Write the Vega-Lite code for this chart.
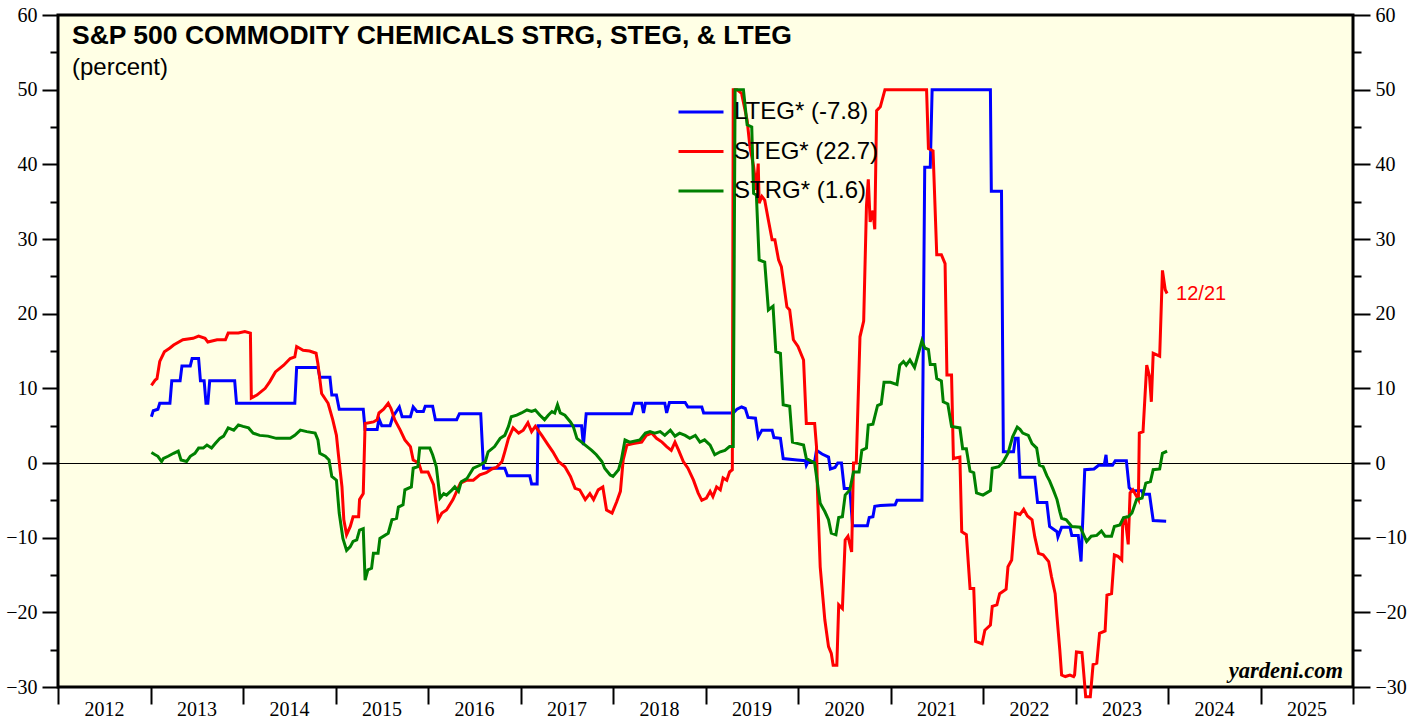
{
"$schema": "https://vega.github.io/schema/vega-lite/v6.json",
"width": 1295, "height": 672,
"autosize": {"type": "none"},
"padding": {"left": 58, "top": 15, "right": 66, "bottom": 32},
"background": "white",
"config": {"view": {"fill": "#FFFFE5", "stroke": "black", "strokeWidth": 3}},
"resolve": {"scale": {"y": "independent"}, "axis": {"y": "independent"}},
"layer": [
{
 "data": {"values": [
{"s":"LTEG","t":2013.01,"v":6.2},{"s":"LTEG","t":2013.03,"v":7.0},{"s":"LTEG","t":2013.08,"v":7.2},{"s":"LTEG","t":2013.10,"v":8.0},{"s":"LTEG","t":2013.21,"v":8.0},{"s":"LTEG","t":2013.23,"v":11},{"s":"LTEG","t":2013.32,"v":11},{"s":"LTEG","t":2013.34,"v":13},{"s":"LTEG","t":2013.43,"v":13},{"s":"LTEG","t":2013.45,"v":14},{"s":"LTEG","t":2013.52,"v":14},{"s":"LTEG","t":2013.54,"v":11},{"s":"LTEG","t":2013.58,"v":11},{"s":"LTEG","t":2013.60,"v":8},{"s":"LTEG","t":2013.62,"v":8},{"s":"LTEG","t":2013.64,"v":11},{"s":"LTEG","t":2013.91,"v":11},{"s":"LTEG","t":2013.93,"v":8},{"s":"LTEG","t":2014.56,"v":8},{"s":"LTEG","t":2014.58,"v":12.8},{"s":"LTEG","t":2014.81,"v":12.8},{"s":"LTEG","t":2014.83,"v":11.5},{"s":"LTEG","t":2014.94,"v":11.5},{"s":"LTEG","t":2014.96,"v":9.1},{"s":"LTEG","t":2015.01,"v":9.1},{"s":"LTEG","t":2015.04,"v":7.2},{"s":"LTEG","t":2015.30,"v":7.2},{"s":"LTEG","t":2015.32,"v":4.5},{"s":"LTEG","t":2015.45,"v":4.5},{"s":"LTEG","t":2015.47,"v":5.9},{"s":"LTEG","t":2015.50,"v":5.0},{"s":"LTEG","t":2015.59,"v":5.0},{"s":"LTEG","t":2015.62,"v":6.2},{"s":"LTEG","t":2015.69,"v":7.5},{"s":"LTEG","t":2015.72,"v":6.2},{"s":"LTEG","t":2015.81,"v":6.2},{"s":"LTEG","t":2015.84,"v":7.5},{"s":"LTEG","t":2015.88,"v":6.9},{"s":"LTEG","t":2015.95,"v":6.9},{"s":"LTEG","t":2015.97,"v":7.6},{"s":"LTEG","t":2016.05,"v":7.6},{"s":"LTEG","t":2016.08,"v":5.8},{"s":"LTEG","t":2016.31,"v":5.8},{"s":"LTEG","t":2016.34,"v":6.6},{"s":"LTEG","t":2016.57,"v":6.6},{"s":"LTEG","t":2016.60,"v":-0.7},{"s":"LTEG","t":2016.83,"v":-0.7},{"s":"LTEG","t":2016.86,"v":-1.7},{"s":"LTEG","t":2017.10,"v":-1.7},{"s":"LTEG","t":2017.12,"v":-2.8},{"s":"LTEG","t":2017.18,"v":-2.8},{"s":"LTEG","t":2017.19,"v":5.0},{"s":"LTEG","t":2017.66,"v":5.0},{"s":"LTEG","t":2017.68,"v":2.4},{"s":"LTEG","t":2017.71,"v":6.6},{"s":"LTEG","t":2018.20,"v":6.6},{"s":"LTEG","t":2018.23,"v":8.0},{"s":"LTEG","t":2018.31,"v":8.0},{"s":"LTEG","t":2018.33,"v":6.7},{"s":"LTEG","t":2018.35,"v":8.0},{"s":"LTEG","t":2018.56,"v":8.0},{"s":"LTEG","t":2018.58,"v":6.7},{"s":"LTEG","t":2018.61,"v":8.1},{"s":"LTEG","t":2018.78,"v":8.1},{"s":"LTEG","t":2018.81,"v":7.5},{"s":"LTEG","t":2018.96,"v":7.5},{"s":"LTEG","t":2018.98,"v":6.7},{"s":"LTEG","t":2019.30,"v":6.7},{"s":"LTEG","t":2019.34,"v":7.2},{"s":"LTEG","t":2019.39,"v":7.5},{"s":"LTEG","t":2019.43,"v":7.3},{"s":"LTEG","t":2019.46,"v":6.1},{"s":"LTEG","t":2019.54,"v":6.0},{"s":"LTEG","t":2019.57,"v":3.5},{"s":"LTEG","t":2019.61,"v":4.4},{"s":"LTEG","t":2019.72,"v":4.4},{"s":"LTEG","t":2019.74,"v":3.4},{"s":"LTEG","t":2019.81,"v":3.3},{"s":"LTEG","t":2019.84,"v":0.6},{"s":"LTEG","t":2019.99,"v":0.4},{"s":"LTEG","t":2020.08,"v":0.3},{"s":"LTEG","t":2020.09,"v":-0.3},{"s":"LTEG","t":2020.11,"v":0.2},{"s":"LTEG","t":2020.18,"v":0.2},{"s":"LTEG","t":2020.20,"v":1.7},{"s":"LTEG","t":2020.26,"v":1.2},{"s":"LTEG","t":2020.33,"v":0.8},{"s":"LTEG","t":2020.35,"v":-0.8},{"s":"LTEG","t":2020.40,"v":-0.6},{"s":"LTEG","t":2020.43,"v":0},{"s":"LTEG","t":2020.47,"v":0},{"s":"LTEG","t":2020.50,"v":-3.4},{"s":"LTEG","t":2020.56,"v":-3.4},{"s":"LTEG","t":2020.59,"v":-8.4},{"s":"LTEG","t":2020.75,"v":-8.4},{"s":"LTEG","t":2020.77,"v":-7.3},{"s":"LTEG","t":2020.81,"v":-7.2},{"s":"LTEG","t":2020.83,"v":-5.8},{"s":"LTEG","t":2020.89,"v":-5.7},{"s":"LTEG","t":2021.05,"v":-5.6},{"s":"LTEG","t":2021.07,"v":-5.0},{"s":"LTEG","t":2021.34,"v":-5.0},{"s":"LTEG","t":2021.37,"v":39.6},{"s":"LTEG","t":2021.43,"v":39.6},{"s":"LTEG","t":2021.45,"v":50},{"s":"LTEG","t":2022.08,"v":50},{"s":"LTEG","t":2022.09,"v":36.4},{"s":"LTEG","t":2022.20,"v":36.4},{"s":"LTEG","t":2022.22,"v":1.5},{"s":"LTEG","t":2022.33,"v":1.5},{"s":"LTEG","t":2022.35,"v":3.3},{"s":"LTEG","t":2022.38,"v":3.3},{"s":"LTEG","t":2022.40,"v":-1.9},{"s":"LTEG","t":2022.56,"v":-1.9},{"s":"LTEG","t":2022.59,"v":-5.3},{"s":"LTEG","t":2022.69,"v":-5.3},{"s":"LTEG","t":2022.72,"v":-8.5},{"s":"LTEG","t":2022.80,"v":-9.2},{"s":"LTEG","t":2022.81,"v":-9.9},{"s":"LTEG","t":2022.85,"v":-8.6},{"s":"LTEG","t":2022.94,"v":-8.6},{"s":"LTEG","t":2022.96,"v":-9.7},{"s":"LTEG","t":2023.03,"v":-9.7},{"s":"LTEG","t":2023.06,"v":-13.2},{"s":"LTEG","t":2023.08,"v":-7.2},{"s":"LTEG","t":2023.10,"v":-0.9},{"s":"LTEG","t":2023.20,"v":-0.8},{"s":"LTEG","t":2023.25,"v":-0.3},{"s":"LTEG","t":2023.31,"v":-0.3},{"s":"LTEG","t":2023.33,"v":1.1},{"s":"LTEG","t":2023.34,"v":-0.3},{"s":"LTEG","t":2023.40,"v":-0.3},{"s":"LTEG","t":2023.43,"v":0.3},{"s":"LTEG","t":2023.55,"v":0.3},{"s":"LTEG","t":2023.58,"v":-3.3},{"s":"LTEG","t":2023.61,"v":-3.7},{"s":"LTEG","t":2023.72,"v":-3.7},{"s":"LTEG","t":2023.73,"v":-4.2},{"s":"LTEG","t":2023.80,"v":-4.2},{"s":"LTEG","t":2023.84,"v":-7.7},{"s":"LTEG","t":2023.98,"v":-7.8},
{"s":"STEG","t":2013.01,"v":10.4},{"s":"STEG","t":2013.05,"v":11.1},{"s":"STEG","t":2013.07,"v":11.3},{"s":"STEG","t":2013.10,"v":13.6},{"s":"STEG","t":2013.15,"v":14.9},{"s":"STEG","t":2013.21,"v":15.4},{"s":"STEG","t":2013.25,"v":15.8},{"s":"STEG","t":2013.35,"v":16.5},{"s":"STEG","t":2013.46,"v":16.7},{"s":"STEG","t":2013.52,"v":17.0},{"s":"STEG","t":2013.59,"v":16.7},{"s":"STEG","t":2013.62,"v":16.2},{"s":"STEG","t":2013.72,"v":16.5},{"s":"STEG","t":2013.81,"v":16.5},{"s":"STEG","t":2013.84,"v":17.4},{"s":"STEG","t":2013.95,"v":17.4},{"s":"STEG","t":2014.02,"v":17.6},{"s":"STEG","t":2014.08,"v":17.4},{"s":"STEG","t":2014.09,"v":8.7},{"s":"STEG","t":2014.15,"v":9.1},{"s":"STEG","t":2014.24,"v":10.0},{"s":"STEG","t":2014.29,"v":10.9},{"s":"STEG","t":2014.35,"v":12.2},{"s":"STEG","t":2014.44,"v":13.1},{"s":"STEG","t":2014.51,"v":14.0},{"s":"STEG","t":2014.56,"v":14.2},{"s":"STEG","t":2014.58,"v":15.6},{"s":"STEG","t":2014.65,"v":15.1},{"s":"STEG","t":2014.72,"v":15.0},{"s":"STEG","t":2014.79,"v":14.7},{"s":"STEG","t":2014.81,"v":13.3},{"s":"STEG","t":2014.85,"v":9.3},{"s":"STEG","t":2014.92,"v":8.0},{"s":"STEG","t":2014.97,"v":5.8},{"s":"STEG","t":2015.01,"v":3.7},{"s":"STEG","t":2015.03,"v":1.3},{"s":"STEG","t":2015.07,"v":-3.2},{"s":"STEG","t":2015.09,"v":-7.6},{"s":"STEG","t":2015.12,"v":-9.6},{"s":"STEG","t":2015.16,"v":-8.5},{"s":"STEG","t":2015.19,"v":-7.2},{"s":"STEG","t":2015.25,"v":-7.2},{"s":"STEG","t":2015.26,"v":-4.9},{"s":"STEG","t":2015.30,"v":-4.1},{"s":"STEG","t":2015.32,"v":5.3},{"s":"STEG","t":2015.41,"v":5.5},{"s":"STEG","t":2015.45,"v":5.8},{"s":"STEG","t":2015.47,"v":6.7},{"s":"STEG","t":2015.52,"v":7.2},{"s":"STEG","t":2015.57,"v":8.0},{"s":"STEG","t":2015.60,"v":7.3},{"s":"STEG","t":2015.64,"v":5.8},{"s":"STEG","t":2015.70,"v":4.4},{"s":"STEG","t":2015.75,"v":3.1},{"s":"STEG","t":2015.81,"v":2.2},{"s":"STEG","t":2015.84,"v":0.4},{"s":"STEG","t":2015.90,"v":0},{"s":"STEG","t":2015.93,"v":-1.2},{"s":"STEG","t":2016.00,"v":-1.2},{"s":"STEG","t":2016.06,"v":-2.9},{"s":"STEG","t":2016.11,"v":-7.6},{"s":"STEG","t":2016.15,"v":-6.7},{"s":"STEG","t":2016.20,"v":-6.3},{"s":"STEG","t":2016.27,"v":-4.9},{"s":"STEG","t":2016.35,"v":-2.7},{"s":"STEG","t":2016.42,"v":-2.3},{"s":"STEG","t":2016.49,"v":-2.3},{"s":"STEG","t":2016.56,"v":-1.6},{"s":"STEG","t":2016.63,"v":-1.3},{"s":"STEG","t":2016.69,"v":-0.8},{"s":"STEG","t":2016.74,"v":-0.6},{"s":"STEG","t":2016.80,"v":0.2},{"s":"STEG","t":2016.83,"v":1.5},{"s":"STEG","t":2016.87,"v":3.3},{"s":"STEG","t":2016.92,"v":4.7},{"s":"STEG","t":2016.98,"v":4.0},{"s":"STEG","t":2017.03,"v":4.4},{"s":"STEG","t":2017.08,"v":5.4},{"s":"STEG","t":2017.12,"v":4.2},{"s":"STEG","t":2017.16,"v":4.9},{"s":"STEG","t":2017.23,"v":3.7},{"s":"STEG","t":2017.30,"v":2.4},{"s":"STEG","t":2017.35,"v":1.5},{"s":"STEG","t":2017.41,"v":0.2},{"s":"STEG","t":2017.48,"v":-0.5},{"s":"STEG","t":2017.54,"v":-1.8},{"s":"STEG","t":2017.59,"v":-3.4},{"s":"STEG","t":2017.64,"v":-3.6},{"s":"STEG","t":2017.70,"v":-4.9},{"s":"STEG","t":2017.75,"v":-4.1},{"s":"STEG","t":2017.79,"v":-4.9},{"s":"STEG","t":2017.84,"v":-3.6},{"s":"STEG","t":2017.89,"v":-3.2},{"s":"STEG","t":2017.93,"v":-6.3},{"s":"STEG","t":2017.99,"v":-6.7},{"s":"STEG","t":2018.04,"v":-5.2},{"s":"STEG","t":2018.08,"v":-3.8},{"s":"STEG","t":2018.11,"v":0.4},{"s":"STEG","t":2018.15,"v":2.4},{"s":"STEG","t":2018.22,"v":2.6},{"s":"STEG","t":2018.31,"v":2.8},{"s":"STEG","t":2018.36,"v":3.7},{"s":"STEG","t":2018.42,"v":4.0},{"s":"STEG","t":2018.47,"v":3.3},{"s":"STEG","t":2018.53,"v":2.8},{"s":"STEG","t":2018.58,"v":2.2},{"s":"STEG","t":2018.63,"v":1.7},{"s":"STEG","t":2018.67,"v":2.8},{"s":"STEG","t":2018.71,"v":1.7},{"s":"STEG","t":2018.76,"v":0.2},{"s":"STEG","t":2018.81,"v":-0.7},{"s":"STEG","t":2018.87,"v":-2.3},{"s":"STEG","t":2018.92,"v":-4.0},{"s":"STEG","t":2018.96,"v":-5.0},{"s":"STEG","t":2019.01,"v":-4.7},{"s":"STEG","t":2019.05,"v":-3.8},{"s":"STEG","t":2019.08,"v":-4.5},{"s":"STEG","t":2019.12,"v":-3.2},{"s":"STEG","t":2019.16,"v":-3.6},{"s":"STEG","t":2019.19,"v":-2.0},{"s":"STEG","t":2019.23,"v":-2.3},{"s":"STEG","t":2019.26,"v":-1.2},{"s":"STEG","t":2019.29,"v":-0.9},{"s":"STEG","t":2019.30,"v":50},{"s":"STEG","t":2019.34,"v":50},{"s":"STEG","t":2019.39,"v":49.5},{"s":"STEG","t":2019.45,"v":45.9},{"s":"STEG","t":2019.48,"v":42.4},{"s":"STEG","t":2019.52,"v":39.7},{"s":"STEG","t":2019.55,"v":36.6},{"s":"STEG","t":2019.57,"v":40.1},{"s":"STEG","t":2019.58,"v":34.8},{"s":"STEG","t":2019.61,"v":35.7},{"s":"STEG","t":2019.64,"v":35.2},{"s":"STEG","t":2019.68,"v":32.5},{"s":"STEG","t":2019.72,"v":29.9},{"s":"STEG","t":2019.75,"v":29.9},{"s":"STEG","t":2019.79,"v":27.2},{"s":"STEG","t":2019.82,"v":26.3},{"s":"STEG","t":2019.84,"v":24.5},{"s":"STEG","t":2019.88,"v":20.9},{"s":"STEG","t":2019.91,"v":20.5},{"s":"STEG","t":2019.95,"v":16.5},{"s":"STEG","t":2020.00,"v":15.6},{"s":"STEG","t":2020.06,"v":13.8},{"s":"STEG","t":2020.09,"v":5.3},{"s":"STEG","t":2020.18,"v":5.3},{"s":"STEG","t":2020.20,"v":2.2},{"s":"STEG","t":2020.21,"v":-3.6},{"s":"STEG","t":2020.24,"v":-13.9},{"s":"STEG","t":2020.29,"v":-21.0},{"s":"STEG","t":2020.33,"v":-24.6},{"s":"STEG","t":2020.36,"v":-25.5},{"s":"STEG","t":2020.38,"v":-27.1},{"s":"STEG","t":2020.42,"v":-27.1},{"s":"STEG","t":2020.44,"v":-19.0},{"s":"STEG","t":2020.48,"v":-19.5},{"s":"STEG","t":2020.51,"v":-10.3},{"s":"STEG","t":2020.54,"v":-9.8},{"s":"STEG","t":2020.58,"v":-11.9},{"s":"STEG","t":2020.60,"v":0},{"s":"STEG","t":2020.63,"v":0},{"s":"STEG","t":2020.67,"v":16.9},{"s":"STEG","t":2020.71,"v":19.0},{"s":"STEG","t":2020.74,"v":34.4},{"s":"STEG","t":2020.76,"v":38.0},{"s":"STEG","t":2020.78,"v":32.3},{"s":"STEG","t":2020.81,"v":33.8},{"s":"STEG","t":2020.83,"v":31.3},{"s":"STEG","t":2020.85,"v":47.2},{"s":"STEG","t":2020.89,"v":47.7},{"s":"STEG","t":2020.94,"v":50},{"s":"STEG","t":2021.39,"v":50},{"s":"STEG","t":2021.41,"v":42.1},{"s":"STEG","t":2021.46,"v":41.8},{"s":"STEG","t":2021.50,"v":27.9},{"s":"STEG","t":2021.55,"v":27.9},{"s":"STEG","t":2021.59,"v":26.7},{"s":"STEG","t":2021.61,"v":11.8},{"s":"STEG","t":2021.66,"v":11.8},{"s":"STEG","t":2021.68,"v":0.6},{"s":"STEG","t":2021.75,"v":0.8},{"s":"STEG","t":2021.77,"v":-9.2},{"s":"STEG","t":2021.82,"v":-9.6},{"s":"STEG","t":2021.86,"v":-16.8},{"s":"STEG","t":2021.90,"v":-16.8},{"s":"STEG","t":2021.92,"v":-23.9},{"s":"STEG","t":2021.99,"v":-24.2},{"s":"STEG","t":2022.02,"v":-22.4},{"s":"STEG","t":2022.08,"v":-21.7},{"s":"STEG","t":2022.10,"v":-19.2},{"s":"STEG","t":2022.15,"v":-19.0},{"s":"STEG","t":2022.18,"v":-17.5},{"s":"STEG","t":2022.25,"v":-16.9},{"s":"STEG","t":2022.27,"v":-13.9},{"s":"STEG","t":2022.31,"v":-13.0},{"s":"STEG","t":2022.35,"v":-6.7},{"s":"STEG","t":2022.40,"v":-6.9},{"s":"STEG","t":2022.44,"v":-6.2},{"s":"STEG","t":2022.48,"v":-7.1},{"s":"STEG","t":2022.53,"v":-7.6},{"s":"STEG","t":2022.56,"v":-9.9},{"s":"STEG","t":2022.60,"v":-12.1},{"s":"STEG","t":2022.65,"v":-12.3},{"s":"STEG","t":2022.71,"v":-13.2},{"s":"STEG","t":2022.74,"v":-15.2},{"s":"STEG","t":2022.78,"v":-17.5},{"s":"STEG","t":2022.80,"v":-20.6},{"s":"STEG","t":2022.83,"v":-25.0},{"s":"STEG","t":2022.85,"v":-28.4},{"s":"STEG","t":2022.89,"v":-28.6},{"s":"STEG","t":2022.94,"v":-28.4},{"s":"STEG","t":2022.98,"v":-28.6},{"s":"STEG","t":2022.99,"v":-28.4},{"s":"STEG","t":2023.01,"v":-25.3},{"s":"STEG","t":2023.07,"v":-25.4},{"s":"STEG","t":2023.08,"v":-26.8},{"s":"STEG","t":2023.11,"v":-31.3},{"s":"STEG","t":2023.16,"v":-31.3},{"s":"STEG","t":2023.19,"v":-27.0},{"s":"STEG","t":2023.23,"v":-26.8},{"s":"STEG","t":2023.26,"v":-22.8},{"s":"STEG","t":2023.32,"v":-22.5},{"s":"STEG","t":2023.34,"v":-17.7},{"s":"STEG","t":2023.39,"v":-17.5},{"s":"STEG","t":2023.42,"v":-12.3},{"s":"STEG","t":2023.46,"v":-12.5},{"s":"STEG","t":2023.50,"v":-13.0},{"s":"STEG","t":2023.51,"v":-8.3},{"s":"STEG","t":2023.54,"v":-7.6},{"s":"STEG","t":2023.57,"v":-10.9},{"s":"STEG","t":2023.59,"v":-4.0},{"s":"STEG","t":2023.62,"v":-3.6},{"s":"STEG","t":2023.68,"v":-4.9},{"s":"STEG","t":2023.69,"v":4.0},{"s":"STEG","t":2023.73,"v":4.2},{"s":"STEG","t":2023.77,"v":13.1},{"s":"STEG","t":2023.80,"v":11.6},{"s":"STEG","t":2023.82,"v":8.2},{"s":"STEG","t":2023.84,"v":14.7},{"s":"STEG","t":2023.91,"v":14.3},{"s":"STEG","t":2023.94,"v":25.8},{"s":"STEG","t":2023.97,"v":23.2},{"s":"STEG","t":2023.99,"v":22.7},
{"s":"STRG","t":2013.01,"v":1.4},{"s":"STRG","t":2013.05,"v":1.1},{"s":"STRG","t":2013.08,"v":0.9},{"s":"STRG","t":2013.12,"v":0.2},{"s":"STRG","t":2013.14,"v":0.6},{"s":"STRG","t":2013.19,"v":0.9},{"s":"STRG","t":2013.25,"v":1.3},{"s":"STRG","t":2013.30,"v":1.6},{"s":"STRG","t":2013.33,"v":0.4},{"s":"STRG","t":2013.39,"v":0.2},{"s":"STRG","t":2013.43,"v":0.9},{"s":"STRG","t":2013.48,"v":1.3},{"s":"STRG","t":2013.52,"v":2.0},{"s":"STRG","t":2013.57,"v":2.0},{"s":"STRG","t":2013.61,"v":2.4},{"s":"STRG","t":2013.66,"v":2.0},{"s":"STRG","t":2013.70,"v":2.6},{"s":"STRG","t":2013.75,"v":3.3},{"s":"STRG","t":2013.79,"v":3.6},{"s":"STRG","t":2013.84,"v":4.7},{"s":"STRG","t":2013.90,"v":4.4},{"s":"STRG","t":2013.95,"v":5.1},{"s":"STRG","t":2014.00,"v":4.9},{"s":"STRG","t":2014.06,"v":4.7},{"s":"STRG","t":2014.11,"v":4.0},{"s":"STRG","t":2014.18,"v":3.7},{"s":"STRG","t":2014.27,"v":3.6},{"s":"STRG","t":2014.36,"v":3.3},{"s":"STRG","t":2014.51,"v":3.3},{"s":"STRG","t":2014.56,"v":3.7},{"s":"STRG","t":2014.62,"v":4.4},{"s":"STRG","t":2014.69,"v":4.2},{"s":"STRG","t":2014.78,"v":4.0},{"s":"STRG","t":2014.81,"v":3.1},{"s":"STRG","t":2014.83,"v":1.3},{"s":"STRG","t":2014.89,"v":0.9},{"s":"STRG","t":2014.93,"v":0.4},{"s":"STRG","t":2014.96,"v":-1.8},{"s":"STRG","t":2015.01,"v":-2.3},{"s":"STRG","t":2015.04,"v":-6.7},{"s":"STRG","t":2015.08,"v":-10.1},{"s":"STRG","t":2015.12,"v":-11.7},{"s":"STRG","t":2015.16,"v":-11.2},{"s":"STRG","t":2015.19,"v":-10.5},{"s":"STRG","t":2015.23,"v":-10.3},{"s":"STRG","t":2015.26,"v":-9.0},{"s":"STRG","t":2015.30,"v":-8.8},{"s":"STRG","t":2015.32,"v":-15.7},{"s":"STRG","t":2015.35,"v":-14.3},{"s":"STRG","t":2015.39,"v":-14.1},{"s":"STRG","t":2015.41,"v":-12.1},{"s":"STRG","t":2015.46,"v":-12.1},{"s":"STRG","t":2015.48,"v":-10.1},{"s":"STRG","t":2015.57,"v":-9.4},{"s":"STRG","t":2015.61,"v":-7.6},{"s":"STRG","t":2015.66,"v":-7.4},{"s":"STRG","t":2015.68,"v":-5.9},{"s":"STRG","t":2015.73,"v":-5.6},{"s":"STRG","t":2015.75,"v":-3.6},{"s":"STRG","t":2015.82,"v":-3.2},{"s":"STRG","t":2015.84,"v":-0.7},{"s":"STRG","t":2015.89,"v":-0.5},{"s":"STRG","t":2015.91,"v":2.0},{"s":"STRG","t":2016.02,"v":2.0},{"s":"STRG","t":2016.05,"v":1.1},{"s":"STRG","t":2016.09,"v":-0.5},{"s":"STRG","t":2016.13,"v":-4.7},{"s":"STRG","t":2016.17,"v":-4.1},{"s":"STRG","t":2016.20,"v":-4.3},{"s":"STRG","t":2016.26,"v":-3.6},{"s":"STRG","t":2016.29,"v":-3.2},{"s":"STRG","t":2016.33,"v":-3.8},{"s":"STRG","t":2016.36,"v":-2.5},{"s":"STRG","t":2016.42,"v":-2.1},{"s":"STRG","t":2016.49,"v":-0.7},{"s":"STRG","t":2016.56,"v":-0.3},{"s":"STRG","t":2016.62,"v":0.2},{"s":"STRG","t":2016.65,"v":1.5},{"s":"STRG","t":2016.72,"v":2.2},{"s":"STRG","t":2016.78,"v":3.3},{"s":"STRG","t":2016.83,"v":3.7},{"s":"STRG","t":2016.87,"v":4.9},{"s":"STRG","t":2016.90,"v":6.2},{"s":"STRG","t":2016.96,"v":6.4},{"s":"STRG","t":2017.01,"v":6.7},{"s":"STRG","t":2017.07,"v":7.1},{"s":"STRG","t":2017.12,"v":6.9},{"s":"STRG","t":2017.16,"v":7.1},{"s":"STRG","t":2017.21,"v":6.4},{"s":"STRG","t":2017.26,"v":5.8},{"s":"STRG","t":2017.30,"v":6.4},{"s":"STRG","t":2017.34,"v":6.9},{"s":"STRG","t":2017.37,"v":6.7},{"s":"STRG","t":2017.40,"v":7.8},{"s":"STRG","t":2017.43,"v":6.7},{"s":"STRG","t":2017.48,"v":6.4},{"s":"STRG","t":2017.54,"v":5.5},{"s":"STRG","t":2017.57,"v":4.9},{"s":"STRG","t":2017.61,"v":3.3},{"s":"STRG","t":2017.66,"v":2.8},{"s":"STRG","t":2017.72,"v":2.2},{"s":"STRG","t":2017.77,"v":1.7},{"s":"STRG","t":2017.82,"v":1.1},{"s":"STRG","t":2017.88,"v":0.2},{"s":"STRG","t":2017.91,"v":-0.7},{"s":"STRG","t":2017.97,"v":-1.6},{"s":"STRG","t":2018.00,"v":-1.8},{"s":"STRG","t":2018.06,"v":-0.9},{"s":"STRG","t":2018.09,"v":0.4},{"s":"STRG","t":2018.13,"v":3.1},{"s":"STRG","t":2018.18,"v":2.8},{"s":"STRG","t":2018.29,"v":3.1},{"s":"STRG","t":2018.35,"v":4.0},{"s":"STRG","t":2018.40,"v":4.2},{"s":"STRG","t":2018.45,"v":4.0},{"s":"STRG","t":2018.51,"v":4.2},{"s":"STRG","t":2018.56,"v":3.7},{"s":"STRG","t":2018.62,"v":4.4},{"s":"STRG","t":2018.67,"v":3.6},{"s":"STRG","t":2018.72,"v":4.0},{"s":"STRG","t":2018.78,"v":3.7},{"s":"STRG","t":2018.83,"v":3.3},{"s":"STRG","t":2018.89,"v":3.7},{"s":"STRG","t":2018.94,"v":2.8},{"s":"STRG","t":2018.99,"v":3.1},{"s":"STRG","t":2019.05,"v":2.4},{"s":"STRG","t":2019.10,"v":1.1},{"s":"STRG","t":2019.16,"v":1.5},{"s":"STRG","t":2019.21,"v":1.7},{"s":"STRG","t":2019.26,"v":2.2},{"s":"STRG","t":2019.30,"v":2.2},{"s":"STRG","t":2019.32,"v":50},{"s":"STRG","t":2019.41,"v":50},{"s":"STRG","t":2019.45,"v":45.3},{"s":"STRG","t":2019.50,"v":45.0},{"s":"STRG","t":2019.52,"v":36.1},{"s":"STRG","t":2019.55,"v":35.9},{"s":"STRG","t":2019.58,"v":27.2},{"s":"STRG","t":2019.64,"v":26.9},{"s":"STRG","t":2019.68,"v":20.5},{"s":"STRG","t":2019.73,"v":21.0},{"s":"STRG","t":2019.76,"v":14.9},{"s":"STRG","t":2019.81,"v":14.7},{"s":"STRG","t":2019.84,"v":7.8},{"s":"STRG","t":2019.91,"v":7.6},{"s":"STRG","t":2019.94,"v":2.8},{"s":"STRG","t":2020.00,"v":2.6},{"s":"STRG","t":2020.06,"v":2.4},{"s":"STRG","t":2020.09,"v":0.6},{"s":"STRG","t":2020.18,"v":0},{"s":"STRG","t":2020.24,"v":-5.4},{"s":"STRG","t":2020.29,"v":-6.5},{"s":"STRG","t":2020.33,"v":-7.6},{"s":"STRG","t":2020.36,"v":-9.4},{"s":"STRG","t":2020.41,"v":-9.6},{"s":"STRG","t":2020.44,"v":-7.3},{"s":"STRG","t":2020.48,"v":-7.2},{"s":"STRG","t":2020.51,"v":-4.3},{"s":"STRG","t":2020.56,"v":-3.6},{"s":"STRG","t":2020.60,"v":-1.2},{"s":"STRG","t":2020.66,"v":-1.2},{"s":"STRG","t":2020.69,"v":1.7},{"s":"STRG","t":2020.74,"v":2.0},{"s":"STRG","t":2020.76,"v":5.1},{"s":"STRG","t":2020.81,"v":5.2},{"s":"STRG","t":2020.86,"v":7.7},{"s":"STRG","t":2020.90,"v":7.9},{"s":"STRG","t":2020.93,"v":10.8},{"s":"STRG","t":2021.00,"v":10.8},{"s":"STRG","t":2021.07,"v":10.5},{"s":"STRG","t":2021.10,"v":13.1},{"s":"STRG","t":2021.14,"v":13.6},{"s":"STRG","t":2021.17,"v":13.1},{"s":"STRG","t":2021.21,"v":13.8},{"s":"STRG","t":2021.26,"v":12.8},{"s":"STRG","t":2021.30,"v":14.6},{"s":"STRG","t":2021.34,"v":16.4},{"s":"STRG","t":2021.37,"v":15.4},{"s":"STRG","t":2021.41,"v":15.2},{"s":"STRG","t":2021.43,"v":13.2},{"s":"STRG","t":2021.48,"v":13.2},{"s":"STRG","t":2021.50,"v":11.3},{"s":"STRG","t":2021.55,"v":11.0},{"s":"STRG","t":2021.57,"v":8.2},{"s":"STRG","t":2021.62,"v":7.9},{"s":"STRG","t":2021.66,"v":4.9},{"s":"STRG","t":2021.75,"v":4.7},{"s":"STRG","t":2021.78,"v":1.9},{"s":"STRG","t":2021.82,"v":1.9},{"s":"STRG","t":2021.86,"v":-1.1},{"s":"STRG","t":2021.90,"v":-1.3},{"s":"STRG","t":2021.93,"v":-4.0},{"s":"STRG","t":2022.00,"v":-4.3},{"s":"STRG","t":2022.08,"v":-3.7},{"s":"STRG","t":2022.10,"v":-0.7},{"s":"STRG","t":2022.17,"v":-0.5},{"s":"STRG","t":2022.22,"v":0.2},{"s":"STRG","t":2022.27,"v":1.3},{"s":"STRG","t":2022.32,"v":3.5},{"s":"STRG","t":2022.37,"v":4.8},{"s":"STRG","t":2022.40,"v":4.5},{"s":"STRG","t":2022.43,"v":4.0},{"s":"STRG","t":2022.49,"v":3.7},{"s":"STRG","t":2022.53,"v":2.6},{"s":"STRG","t":2022.58,"v":2.0},{"s":"STRG","t":2022.61,"v":-0.3},{"s":"STRG","t":2022.65,"v":-0.5},{"s":"STRG","t":2022.69,"v":-1.7},{"s":"STRG","t":2022.72,"v":-2.4},{"s":"STRG","t":2022.76,"v":-3.6},{"s":"STRG","t":2022.80,"v":-4.9},{"s":"STRG","t":2022.83,"v":-6.5},{"s":"STRG","t":2022.85,"v":-7.4},{"s":"STRG","t":2022.90,"v":-7.6},{"s":"STRG","t":2022.96,"v":-8.5},{"s":"STRG","t":2023.05,"v":-8.6},{"s":"STRG","t":2023.08,"v":-9.4},{"s":"STRG","t":2023.12,"v":-10.5},{"s":"STRG","t":2023.17,"v":-9.8},{"s":"STRG","t":2023.23,"v":-9.7},{"s":"STRG","t":2023.28,"v":-9.1},{"s":"STRG","t":2023.32,"v":-9.8},{"s":"STRG","t":2023.39,"v":-9.8},{"s":"STRG","t":2023.42,"v":-8.5},{"s":"STRG","t":2023.48,"v":-8.3},{"s":"STRG","t":2023.52,"v":-7.3},{"s":"STRG","t":2023.57,"v":-7.2},{"s":"STRG","t":2023.61,"v":-6.7},{"s":"STRG","t":2023.66,"v":-4.9},{"s":"STRG","t":2023.72,"v":-4.7},{"s":"STRG","t":2023.76,"v":-2.7},{"s":"STRG","t":2023.81,"v":-2.5},{"s":"STRG","t":2023.84,"v":-0.9},{"s":"STRG","t":2023.91,"v":-0.8},{"s":"STRG","t":2023.94,"v":1.3},{"s":"STRG","t":2023.99,"v":1.6}
 ]},
 "mark": {"type": "line", "strokeWidth": 3, "strokeJoin": "miter"},
 "encoding": {
  "x": {"field": "t", "type": "quantitative", "scale": {"domain": [2012, 2026], "nice": false, "zero": false},
   "axis": {"orient": "bottom", "values": [2012,2013,2014,2015,2016,2017,2018,2019,2020,2021,2022,2023,2024,2025,2026], "format": "d",
    "labelExpr": "datum.value < 2026 ? datum.label : ''", "tickSize": 17, "tickWidth": 2, "tickColor": "black",
    "labelOffset": 46, "labelPadding": -5, "labelFont": "Liberation Serif", "labelFontSize": 20, "labelColor": "black",
    "labelFlush": false, "labelOverlap": false, "domain": false, "grid": false, "title": null, "zindex": 1}},
  "y": {"field": "v", "type": "quantitative", "scale": {"domain": [-30, 60], "nice": false, "zero": false},
   "axis": {"orient": "left", "values": [-30,-25,-20,-15,-10,-5,0,5,10,15,20,25,30,35,40,45,50,55,60], "format": "d",
    "labelExpr": "datum.value % 10 === 0 ? datum.label : ''",
    "tickSize": {"condition": {"test": "datum.value % 10 === 0", "value": 16}, "value": 8},
    "tickWidth": 2, "tickColor": "black", "labelPadding": 5, "labelFont": "Liberation Serif", "labelFontSize": 20, "labelColor": "black",
    "domain": false, "grid": true, "gridColor": "black", "gridWidth": 1,
    "gridOpacity": {"condition": {"test": "datum.value === 0", "value": 1}, "value": 0},
    "title": null, "labelOverlap": false, "labelFlush": false}},
  "color": {"field": "s", "type": "nominal",
   "scale": {"domain": ["LTEG", "STEG", "STRG"], "range": ["#0000FF", "#FF0000", "#008000"]},
   "legend": {"orient": "none", "legendX": 619, "legendY": 73, "title": null, "symbolType": "stroke", "symbolSize": 2025,
    "symbolStrokeWidth": 3, "labelFont": "Liberation Sans", "labelFontSize": 24, "labelColor": "black", "rowPadding": 3.5,
    "labelOffset": 9, "labelLimit": 400, "padding": 0,
    "labelExpr": "datum.label == 'LTEG' ? 'LTEG* (-7.8)' : datum.label == 'STEG' ? 'STEG* (22.7)' : 'STRG* (1.6)'"}}
 }
},
{
 "data": {"values": [{}]},
 "mark": {"type": "text", "text": "yardeni.com", "font": "Liberation Serif", "fontSize": 22.5, "fontWeight": "bold", "fontStyle": "italic", "align": "right", "baseline": "alphabetic", "color": "black"},
 "encoding": {
  "x": {"datum": 2025.892, "type": "quantitative", "scale": {"domain": [2012, 2026], "nice": false, "zero": false}},
  "y": {"datum": -28.79, "type": "quantitative", "scale": {"domain": [-30, 60], "nice": false, "zero": false},
   "axis": {"orient": "right", "values": [-30,-25,-20,-15,-10,-5,0,5,10,15,20,25,30,35,40,45,50,55,60], "format": "d",
    "labelExpr": "datum.value % 10 === 0 ? datum.label : ''",
    "tickSize": {"condition": {"test": "datum.value % 10 === 0", "value": 17}, "value": 8},
    "tickWidth": 2, "tickColor": "black", "labelPadding": 5, "labelFont": "Liberation Serif", "labelFontSize": 20, "labelColor": "black",
    "domain": false, "grid": false, "title": null, "labelOverlap": false, "labelFlush": false}}
 }
},
{
 "data": {"values": [{}]},
 "mark": {"type": "text", "text": "S&P 500 COMMODITY CHEMICALS STRG, STEG, & LTEG", "font": "Liberation Sans", "fontSize": 26.5, "fontWeight": "bold", "align": "left", "baseline": "alphabetic", "color": "black"},
 "encoding": {
  "x": {"datum": 2012.151, "type": "quantitative", "scale": {"domain": [2012, 2026], "nice": false, "zero": false}},
  "y": {"datum": 56.1, "type": "quantitative", "scale": {"domain": [-30, 60], "nice": false, "zero": false}, "axis": null}
 }
},
{
 "data": {"values": [{}]},
 "mark": {"type": "text", "text": "(percent)", "font": "Liberation Sans", "fontSize": 24, "align": "left", "baseline": "alphabetic", "color": "black"},
 "encoding": {
  "x": {"datum": 2012.151, "type": "quantitative", "scale": {"domain": [2012, 2026], "nice": false, "zero": false}},
  "y": {"datum": 52.0, "type": "quantitative", "scale": {"domain": [-30, 60], "nice": false, "zero": false}, "axis": null}
 }
},
{
 "data": {"values": [{}]},
 "mark": {"type": "text", "text": "12/21", "font": "Liberation Sans", "fontSize": 20, "align": "left", "baseline": "middle", "color": "#FF0000", "dx": 9},
 "encoding": {
  "x": {"datum": 2023.99, "type": "quantitative", "scale": {"domain": [2012, 2026], "nice": false, "zero": false}},
  "y": {"datum": 22.7, "type": "quantitative", "scale": {"domain": [-30, 60], "nice": false, "zero": false}, "axis": null}
 }
}
]
}
